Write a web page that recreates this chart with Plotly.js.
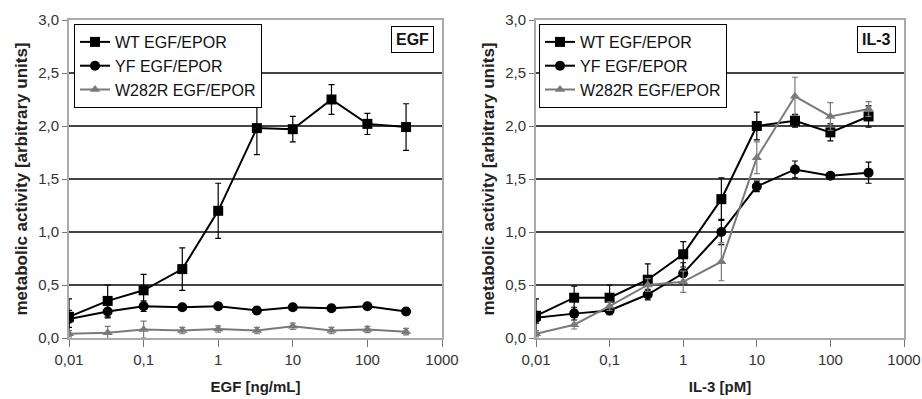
<!DOCTYPE html>
<html><head><meta charset="utf-8">
<script src="https://cdn.plot.ly/plotly-3.0.1.min.js"></script>
<style>body{margin:0;background:#fff;overflow:hidden}#c{width:922px;height:399px}</style>
</head><body><div id="c"></div>
<script>
const conc = [0.01, 0.033, 0.1, 0.33, 1, 3.3, 10, 33, 100, 330];
const tickVals = [0.01, 0.1, 1, 10, 100, 1000];
const tickText = ["0,01", "0,1", "1", "10", "100", "1000"];
const seriesNames = ["WT EGF/EPOR", "YF EGF/EPOR", "W282R EGF/EPOR"];

// EGF panel
const egfWT = [0.20, 0.35, 0.45, 0.65, 1.20, 1.98, 1.97, 2.25, 2.02, 1.99];
const egfWTerr = [0.17, 0.15, 0.15, 0.20, 0.26, 0.25, 0.12, 0.14, 0.10, 0.22];
const egfYF = [0.18, 0.25, 0.30, 0.29, 0.30, 0.26, 0.29, 0.28, 0.30, 0.25];
const egfYFerr = [0.08, 0.06, 0.05, 0.03, 0.03, 0.03, 0.03, 0.03, 0.03, 0.03];
const egfW = [0.04, 0.05, 0.08, 0.07, 0.085, 0.07, 0.11, 0.07, 0.08, 0.06];
const egfWerr = [0.03, 0.06, 0.08, 0.03, 0.03, 0.03, 0.03, 0.03, 0.03, 0.03];

// IL-3 panel
const il3WT = [0.21, 0.38, 0.38, 0.55, 0.79, 1.31, 2.00, 2.05, 1.94, 2.09];
const il3WTerr = [0.16, 0.11, 0.12, 0.15, 0.12, 0.20, 0.13, 0.06, 0.08, 0.10];
const il3YF = [0.19, 0.23, 0.26, 0.41, 0.61, 1.00, 1.43, 1.59, 1.53, 1.56];
const il3YFerr = [0.05, 0.06, 0.04, 0.05, 0.10, 0.12, 0.05, 0.08, 0.03, 0.10];
const il3W = [0.04, 0.125, 0.30, 0.50, 0.53, 0.72, 1.70, 2.28, 2.09, 2.16];
const il3Werr = [0.03, 0.04, 0.04, 0.06, 0.10, 0.18, 0.15, 0.18, 0.13, 0.07];

const black = "#000000", gray = "#7a7a7a";
function tr(y, err, name, symbol, color, size, xa, ya, legend, lw) {
  return {
    x: conc, y: y, name: name, type: "scatter", mode: "lines+markers",
    xaxis: xa, yaxis: ya, legend: legend,
    line: {color: color, width: lw},
    marker: {symbol: symbol, size: size, color: color},
    error_y: {type: "data", array: err, visible: true, color: color, thickness: 1.2, width: 3}
  };
}
const data = [
  tr(egfWT, egfWTerr, seriesNames[0], "square", black, 10, "x", "y", "legend", 2),
  tr(egfYF, egfYFerr, seriesNames[1], "circle", black, 10, "x", "y", "legend", 2),
  tr(egfW, egfWerr, seriesNames[2], "triangle-up", gray, 9, "x", "y", "legend", 2),
  tr(il3WT, il3WTerr, seriesNames[0], "square", black, 10, "x2", "y2", "legend2", 2),
  tr(il3YF, il3YFerr, seriesNames[1], "circle", black, 10, "x2", "y2", "legend2", 2),
  tr(il3W, il3Werr, seriesNames[2], "triangle-up", gray, 9, "x2", "y2", "legend2", 2)
];

const font = {family: "Liberation Sans, Arial, sans-serif", size: 13, color: "#222"};
function xax(domain, title, anchor) {
  return {
    type: "log", range: [-2, 3], domain: domain, anchor: anchor,
    tickvals: tickVals, ticktext: tickText, ticks: "outside", ticklen: 7, tickcolor: "#777",
    ticklabeloverflow: "allow",
    showgrid: false, zeroline: false, showline: true, linecolor: "#aaa", linewidth: 2, mirror: true,
    tickfont: {size: 15, color: "#333"},
    title: {text: title, font: {size: 15, color: "#222", weight: "bold"}, standoff: 14}
  };
}
function yax(domain, anchor) {
  return {
    range: [0, 3], domain: domain, anchor: anchor, dtick: 0.5, tickformat: ".1f",
    ticks: "outside", ticklen: 5, tickcolor: "#777",
    showgrid: true, gridcolor: "#444", gridwidth: 1.3, zeroline: false,
    showline: true, linecolor: "#aaa", linewidth: 2, mirror: true,
    tickfont: {size: 15, color: "#333"},
    title: {text: "metabolic activity [arbitrary units]", font: {size: 17, color: "#222", weight: "bold"}, standoff: 6}
  };
}
const yd = [1 - 338/399, 1 - 20/399];
const legendStyle = (x) => ({
  x: x, y: 1 - 24/399, xanchor: "left", yanchor: "top", xref: "paper", yref: "paper",
  bgcolor: "#fff", bordercolor: "#000", borderwidth: 1,
  font: {size: 16, color: "#111"}, tracegroupgap: 0, itemwidth: 30
});
const layout = {
  width: 922, height: 399, margin: {l: 0, r: 0, t: 0, b: 0},
  paper_bgcolor: "#fff", plot_bgcolor: "#fff", font: font, separators: ", ",
  showlegend: true,
  xaxis: xax([69/922, 442/922], "EGF [ng/mL]", "y"),
  yaxis: yax(yd, "x"),
  xaxis2: xax([536/922, 904/922], "IL-3 [pM]", "y2"),
  yaxis2: yax(yd, "x2"),
  legend: legendStyle(74/922),
  legend2: legendStyle(539/922),
  annotations: [
    {text: "<b>EGF</b>", xref: "paper", yref: "paper", x: 434/922, y: 1 - 26/399, xanchor: "right", yanchor: "top",
     showarrow: false, bordercolor: "#000", borderwidth: 1, bgcolor: "#fff", borderpad: 4, font: {size: 16, color: "#111"}},
    {text: "<b>IL-3</b>", xref: "paper", yref: "paper", x: 896/922, y: 1 - 26/399, xanchor: "right", yanchor: "top",
     showarrow: false, bordercolor: "#000", borderwidth: 1, bgcolor: "#fff", borderpad: 4, font: {size: 16, color: "#111"}}
  ]
};
Plotly.newPlot("c", data, layout, {displayModeBar: false, staticPlot: true});
</script></body></html>
